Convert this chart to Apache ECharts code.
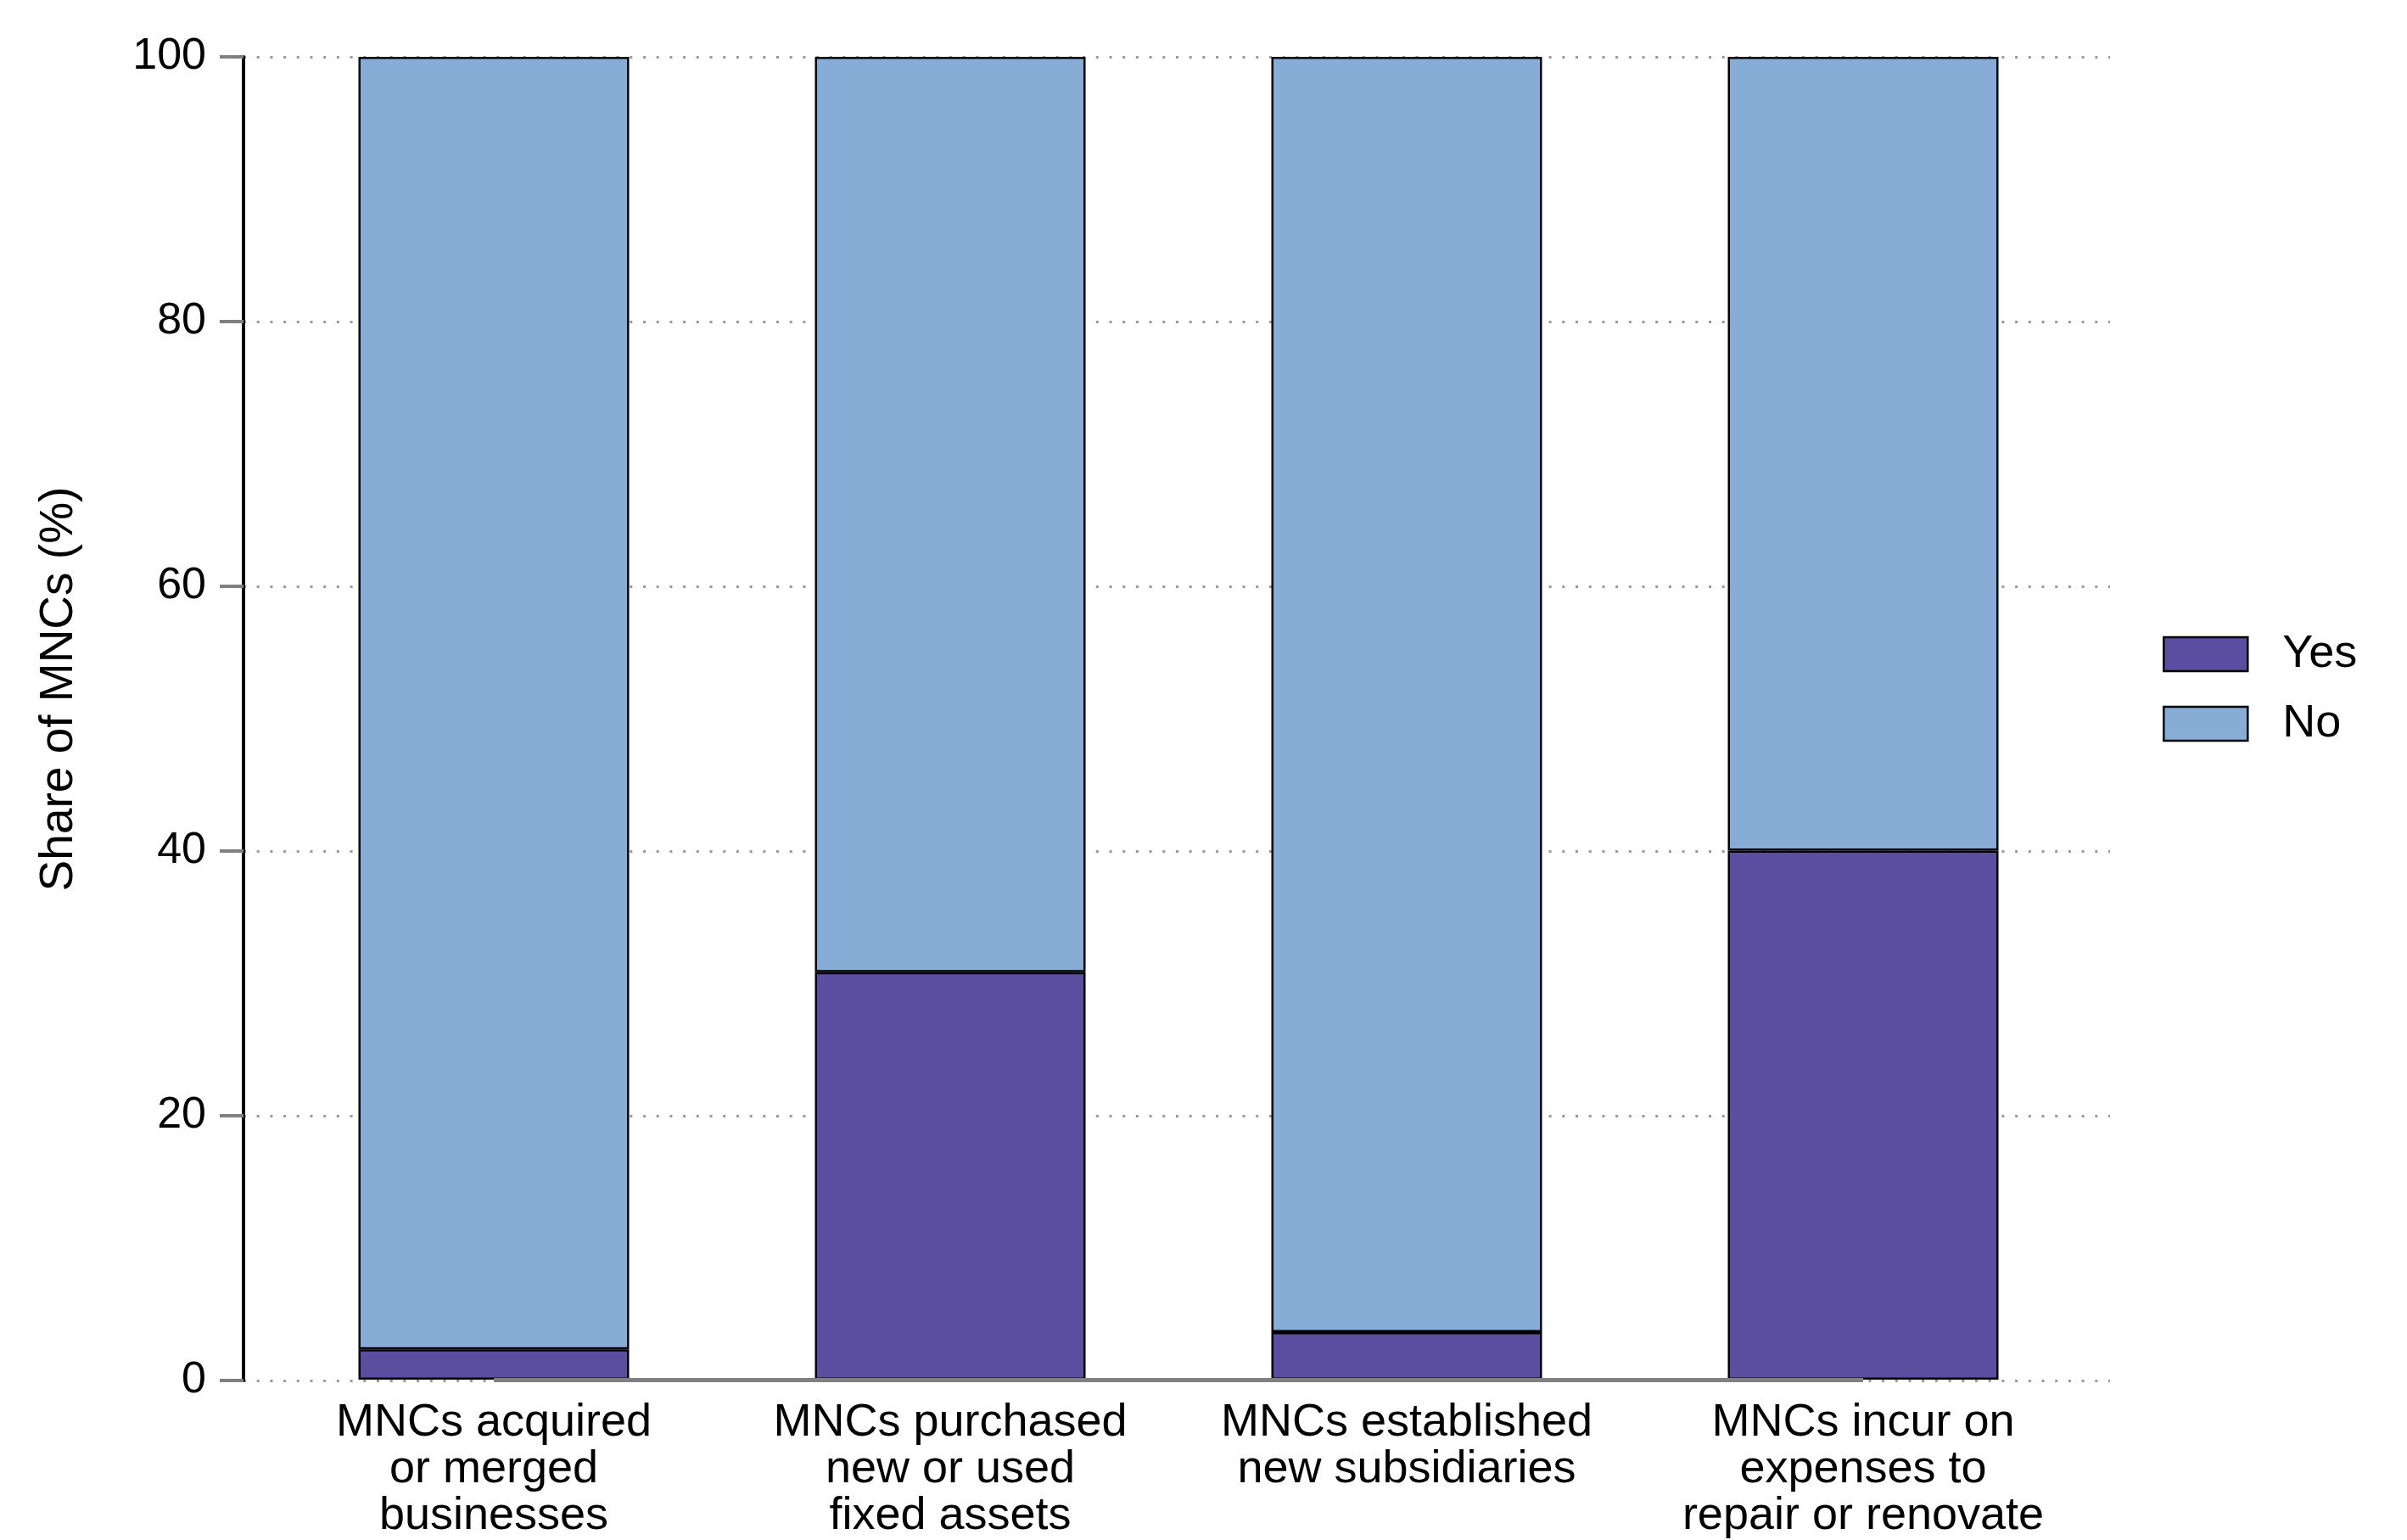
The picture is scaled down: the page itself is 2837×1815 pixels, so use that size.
<!DOCTYPE html>
<html>
<head>
<meta charset="utf-8">
<script src="https://cdn.jsdelivr.net/npm/echarts@6/dist/echarts.min.js"></script>
<style>
html,body{margin:0;padding:0;background:#fff;}
#chart{width:2837px;height:1815px;}
</style>
</head>
<body>
<div id="chart"></div>
<script>
const categories = [
  "MNCs acquired\nor merged\nbusinesses",
  "MNCs purchased\nnew or used\nfixed assets",
  "MNCs established\nnew subsidiaries",
  "MNCs incur on\nexpenses to\nrepair or renovate"
];
const yesValues = [2.3, 30.8, 3.6, 40.0];
const noValues = [97.7, 69.2, 96.4, 60.0];
const seriesNames = ["Yes", "No"];

const FONT = "Liberation Sans, Arial, sans-serif";

const chart = echarts.init(document.getElementById('chart'), null, {renderer: 'canvas'});
chart.setOption({
  animation: false,
  backgroundColor: '#ffffff',
  textStyle: {fontFamily: FONT, color: '#000'},
  grid: [
    {left: 287, top: 67, width: 2200, height: 1560, containLabel: false},
    {left: 313, top: 67, width: 2152, height: 1560, containLabel: false}
  ],
  legend: {
    orient: 'vertical',
    left: 2544,
    top: 739,
    itemWidth: 99,
    itemHeight: 40,
    itemGap: 28,
    icon: 'rect',
    data: seriesNames,
    textStyle: {fontSize: 54, lineHeight: 40, fontFamily: FONT, color: '#000', padding: [0, 0, 0, 36]},
    itemStyle: {borderColor: '#000', borderWidth: 2.5}
  },
  xAxis: [
    {
      gridIndex: 0,
      type: 'value',
      min: 0,
      max: 1,
      show: false
    },
    {
      gridIndex: 1,
      type: 'category',
      data: categories,
      boundaryGap: true,
      axisLine: {show: false},
      axisTick: {show: false},
      splitLine: {show: false},
      axisLabel: {
        interval: 0,
        fontSize: 54,
        lineHeight: 55,
        fontFamily: FONT,
        color: '#000',
        margin: 24,
        align: 'center',
        verticalAlign: 'top'
      }
    }
  ],
  yAxis: [
    {
      gridIndex: 0,
      type: 'value',
      min: 0,
      max: 100,
      interval: 20,
      name: 'Share of MNCs (%)',
      nameLocation: 'middle',
      nameRotate: 90,
      nameGap: 190,
      nameTextStyle: {fontSize: 55, fontFamily: FONT, color: '#000', padding: [0, 0, 0, 70]},
      axisLine: {show: true, lineStyle: {color: '#000', width: 4}},
      axisTick: {show: true, length: 28, lineStyle: {color: '#808080', width: 4}},
      axisLabel: {
        fontSize: 52,
        fontFamily: FONT,
        color: '#000',
        margin: 44
      },
      splitLine: {show: true, lineStyle: {color: '#999999', width: 3, type: [3, 12.7]}}
    },
    {
      gridIndex: 1,
      type: 'value',
      min: 0,
      max: 100,
      interval: 20,
      show: false,
      splitLine: {show: false}
    }
  ],
  series: [
    {
      name: seriesNames[0],
      type: 'bar',
      xAxisIndex: 1,
      yAxisIndex: 1,
      stack: 'total',
      barWidth: 319,
      data: yesValues,
      itemStyle: {color: '#5B4EA0', borderColor: '#000', borderWidth: 2.5},
      z: 2
    },
    {
      name: seriesNames[1],
      type: 'bar',
      xAxisIndex: 1,
      yAxisIndex: 1,
      stack: 'total',
      barWidth: 319,
      data: noValues,
      itemStyle: {color: '#87ACD6', borderColor: '#000', borderWidth: 2.5},
      z: 2,
      markLine: {
        silent: true,
        symbol: ['none', 'none'],
        label: {show: false},
        lineStyle: {color: '#808080', width: 5, type: 'solid'},
        z: 10,
        data: [[{coord: [0, 0]}, {coord: [categories.length - 1, 0]}]]
      }
    }
  ]
});
</script>
</body>
</html>
